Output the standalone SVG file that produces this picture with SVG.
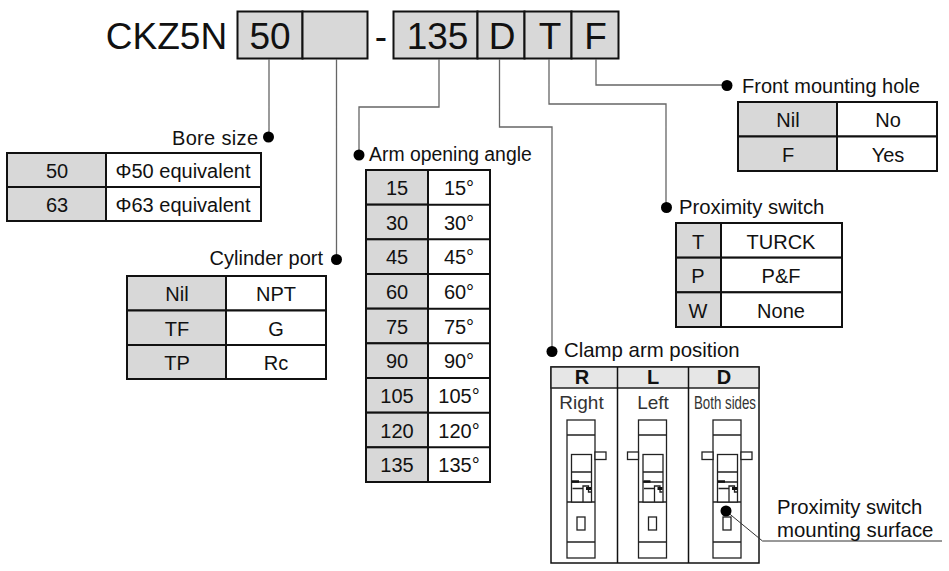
<svg xmlns="http://www.w3.org/2000/svg" width="949" height="571" viewBox="0 0 949 571">
<defs>
<style>
text{font-family:"Liberation Sans",Arial,sans-serif;fill:#111}
.k{fill:#d8d8d8;stroke:#111;stroke-width:2}
.v{fill:#fff;stroke:#111;stroke-width:2}
.t{font-size:20px;text-anchor:middle}
.l{font-size:20px}
.h{font-size:37px;text-anchor:middle}
.c{fill:none;stroke:#666;stroke-width:1.3}
.d{fill:#000}
.o{fill:#fff;stroke:#222;stroke-width:1.3}
.n{fill:none;stroke:#222;stroke-width:1.3}
.g{font-size:19px;text-anchor:middle;fill:#333}
</style>
<g id="sw">
<rect class="o" x="567" y="420" width="28" height="138"/>
<path class="n" d="M567 435H595M567 502H595M567 542H595"/>
<rect class="o" x="571.500" y="454.500" width="20" height="47.500"/>
<path class="n" d="M571.500 472H591.500M571.500 482H591.500M572.500 488.500H583V502M583 488V486H588.500V492H591"/>
<path d="M572 481.500H579" stroke="#111" stroke-width="2.500"/>
<rect x="586" y="487" width="5" height="3" fill="#111"/>
<rect class="o" x="577" y="517" width="8" height="13"/>
</g>
</defs>
<g id="code">
<text x="166.500" y="49" class="h">CKZ5N</text>
<rect class="k" x="237.500" y="11.500" width="65" height="47"/><rect class="k" x="302.500" y="11.500" width="65" height="47"/>
<text x="270" y="49" class="h">50</text>
<text x="381" y="49" class="h">-</text>
<rect class="k" x="393.500" y="11.500" width="84" height="47"/><rect class="k" x="477.500" y="11.500" width="47" height="47"/><rect class="k" x="524.500" y="11.500" width="47" height="47"/><rect class="k" x="571.500" y="11.500" width="47" height="47"/>
<text x="437.500" y="49" class="h">135</text><text x="502" y="49" class="h">D</text><text x="550" y="49" class="h">T</text><text x="595.500" y="49" class="h">F</text>
</g>
<g id="connectors">
<path class="c" d="M269 59V132M336.500 59V254M439 59V107H359V150M499.500 59V127H552V347M549 59V104H666V203M596 59V85H722"/>
<circle class="d" cx="268.500" cy="137" r="5.500"/><circle class="d" cx="336.500" cy="259.500" r="5.500"/><circle class="d" cx="359" cy="155" r="5.500"/><circle class="d" cx="552" cy="351.500" r="5.500"/><circle class="d" cx="666.500" cy="207.500" r="5.500"/><circle class="d" cx="727" cy="85.500" r="5.500"/>
</g>
<g id="bore">
<text x="258" y="145" class="l" text-anchor="end" textLength="86">Bore size</text>
<rect class="k" x="7" y="153" width="99" height="34"/><rect class="v" x="106" y="153" width="155" height="34"/>
<rect class="k" x="7" y="187" width="99" height="34"/><rect class="v" x="106" y="187" width="155" height="34"/>
<text x="57" y="178" class="t">50</text><text x="183" y="178" class="t">Φ50 equivalent</text>
<text x="57" y="212" class="t">63</text><text x="183" y="212" class="t">Φ63 equivalent</text>
</g>
<g id="port">
<text x="323" y="265" class="l" text-anchor="end">Cylinder port</text>
<rect class="k" x="127" y="276" width="99" height="34.500"/><rect class="v" x="226" y="276" width="100" height="34.500"/>
<rect class="k" x="127" y="310.500" width="99" height="34.500"/><rect class="v" x="226" y="310.500" width="100" height="34.500"/>
<rect class="k" x="127" y="345" width="99" height="34"/><rect class="v" x="226" y="345" width="100" height="34"/>
<text x="177" y="301" class="t">Nil</text><text x="276" y="301" class="t">NPT</text>
<text x="177" y="336" class="t">TF</text><text x="276" y="336" class="t">G</text>
<text x="177" y="370" class="t">TP</text><text x="276" y="370" class="t">Rc</text>
</g>
<g id="angle">
<text x="369" y="161" class="l" font-size="19.400" style="font-size:19.400px">Arm opening angle</text>
<rect class="v" x="366" y="170" width="124" height="312"/>
<rect class="k" x="366" y="170" width="62" height="34.670"/><rect class="k" x="366" y="204.670" width="62" height="34.670"/><rect class="k" x="366" y="239.330" width="62" height="34.670"/><rect class="k" x="366" y="274" width="62" height="34.670"/><rect class="k" x="366" y="308.670" width="62" height="34.670"/><rect class="k" x="366" y="343.330" width="62" height="34.670"/><rect class="k" x="366" y="378" width="62" height="34.670"/><rect class="k" x="366" y="412.670" width="62" height="34.670"/><rect class="k" x="366" y="447.330" width="62" height="34.670"/>
<path d="M428 204.670H490M428 239.330H490M428 274H490M428 308.670H490M428 343.330H490M428 378H490M428 412.670H490M428 447.330H490" stroke="#111" stroke-width="2"/>
<text x="397" y="195" class="t">15</text><text x="459" y="195" class="t">15°</text>
<text x="397" y="230" class="t">30</text><text x="459" y="230" class="t">30°</text>
<text x="397" y="264" class="t">45</text><text x="459" y="264" class="t">45°</text>
<text x="397" y="299" class="t">60</text><text x="459" y="299" class="t">60°</text>
<text x="397" y="334" class="t">75</text><text x="459" y="334" class="t">75°</text>
<text x="397" y="368" class="t">90</text><text x="459" y="368" class="t">90°</text>
<text x="397" y="403" class="t">105</text><text x="459" y="403" class="t">105°</text>
<text x="397" y="438" class="t">120</text><text x="459" y="438" class="t">120°</text>
<text x="397" y="472" class="t">135</text><text x="459" y="472" class="t">135°</text>
</g>
<g id="front">
<text x="742" y="93" class="l">Front mounting hole</text>
<rect class="k" x="738" y="102" width="99" height="34.500"/><rect class="v" x="837" y="102" width="100" height="34.500"/>
<rect class="k" x="738" y="136.500" width="99" height="34.500"/><rect class="v" x="837" y="136.500" width="100" height="34.500"/>
<text x="788" y="127" class="t">Nil</text><text x="888" y="127" class="t">No</text>
<text x="788" y="162" class="t">F</text><text x="888" y="162" class="t">Yes</text>
</g>
<g id="prox">
<text x="679" y="214" class="l" style="font-size:20.300px">Proximity switch</text>
<rect class="k" x="676" y="223" width="45" height="34.670"/><rect class="v" x="721" y="223" width="121" height="34.670"/>
<rect class="k" x="676" y="257.670" width="45" height="34.670"/><rect class="v" x="721" y="257.670" width="121" height="34.670"/>
<rect class="k" x="676" y="292.330" width="45" height="34.670"/><rect class="v" x="721" y="292.330" width="121" height="34.670"/>
<text x="698" y="249" class="t">T</text><text x="781" y="249" class="t">TURCK</text>
<text x="698" y="283" class="t">P</text><text x="781" y="283" class="t">P&amp;F</text>
<text x="698" y="318" class="t">W</text><text x="781" y="318" class="t">None</text>
</g>
<g id="clamp">
<text x="564" y="357" class="l" style="font-size:20.400px">Clamp arm position</text>
<rect x="551" y="367" width="208" height="196" fill="#fff" stroke="#111" stroke-width="1.500"/>
<rect x="551" y="367" width="208" height="21" fill="#e6e6e6" stroke="#222" stroke-width="1.500"/>
<path d="M617.500 367V563M688.500 367V563" stroke="#111" stroke-width="1.500"/>
<g font-size="20" text-anchor="middle"><text x="582" y="384" font-weight="bold">R</text><text x="653" y="384" font-weight="bold">L</text><text x="724" y="384" font-weight="bold">D</text></g>
<text x="581.500" y="409" class="g">Right</text>
<text x="653" y="409" class="g">Left</text>
<text x="725" y="409" class="g" style="font-size:18px" textLength="62" lengthAdjust="spacingAndGlyphs">Both sides</text>
<use href="#sw"/><use href="#sw" x="71.500"/><use href="#sw" x="146"/>
<rect class="o" x="595" y="452" width="11" height="7.500"/>
<rect class="o" x="627.500" y="452" width="11" height="7.500"/>
<rect class="o" x="702" y="452" width="11" height="7.500"/>
<rect class="o" x="741" y="452" width="11" height="7.500"/>
<path d="M726 511L762.500 541H942" fill="none" stroke="#333" stroke-width="1"/>
<circle class="d" cx="726" cy="511" r="5.500"/>
<text x="777" y="514" class="l" style="font-size:20.300px">Proximity switch</text>
<text x="777" y="537" class="l" style="font-size:20.400px">mounting surface</text>
</g>
</svg>
